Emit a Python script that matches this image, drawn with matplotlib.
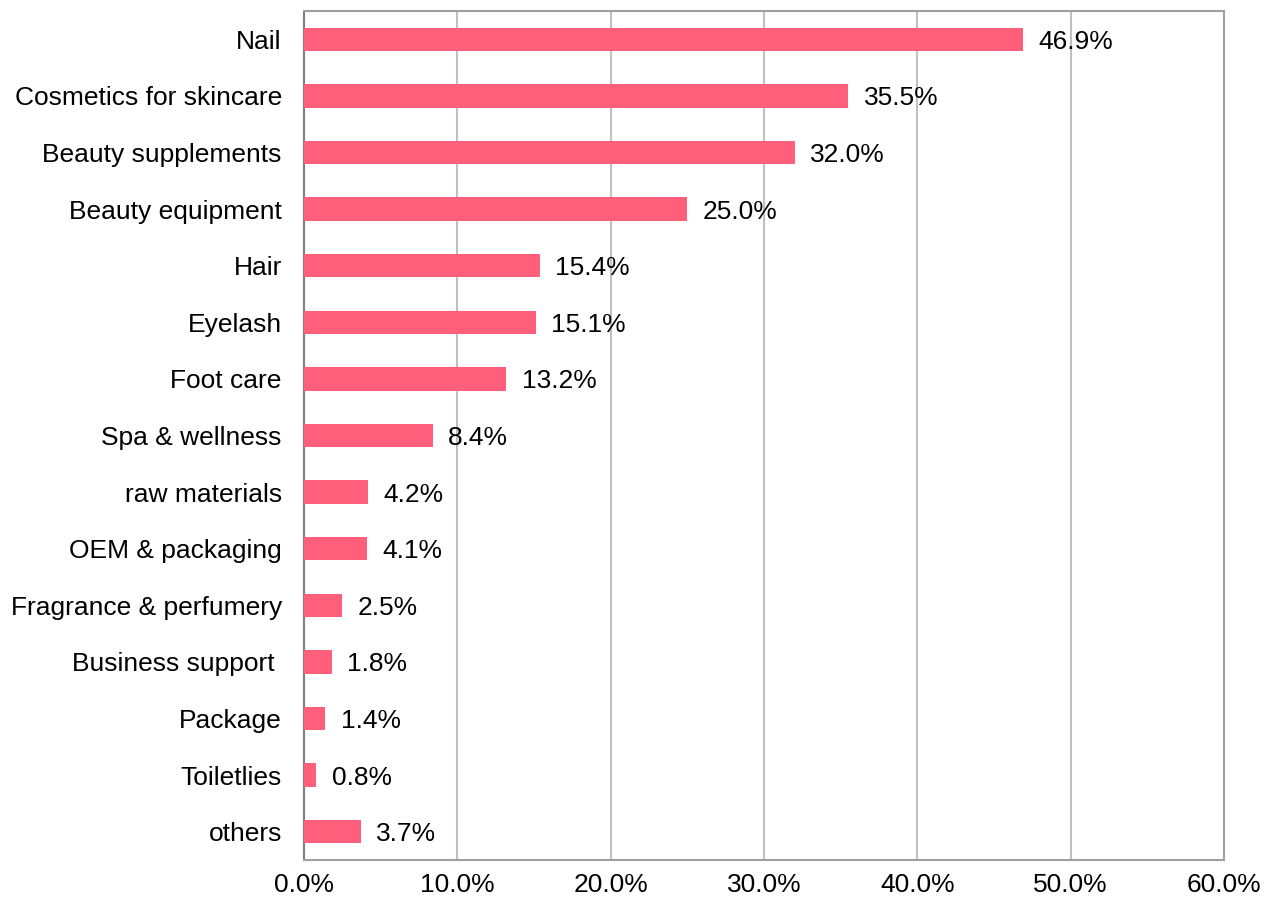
import matplotlib
matplotlib.use('Agg')
import matplotlib.pyplot as plt
import numpy as np

plt.rcParams['font.family'] = ['Liberation Sans', 'DejaVu Sans']

categories = ['Nail', 'Cosmetics for skincare', 'Beauty supplements', 'Beauty equipment',
              'Hair', 'Eyelash', 'Foot care', 'Spa & wellness', 'raw materials',
              'OEM & packaging', 'Fragrance & perfumery', 'Business support ',
              'Package', 'Toiletlies', 'others']
values = [46.9, 35.5, 32.0, 25.0, 15.4, 15.1, 13.2, 8.4, 4.2, 4.1, 2.5, 1.8, 1.4, 0.8, 3.7]
ticks = [0, 10, 20, 30, 40, 50, 60]

fig = plt.figure(figsize=(12.74, 9.09), dpi=100)
ax = fig.add_axes([304/1274, 1 - 860/909, 920/1274, 849/909])

y = np.arange(len(categories))
ax.barh(y, values, height=0.41, color='#FF5F7A', zorder=3)
for yi, v in zip(y, values):
    ax.text(v + 1.0, yi, '%.1f%%' % v, va='center_baseline', ha='left', fontsize=19,
            color='black', zorder=4)

ax.set_ylim(len(categories) - 0.5, -0.5)
ax.set_xlim(0, 60)
ax.set_yticks(y)
ax.set_yticklabels(categories, fontsize=19)
ax.set_xticks(ticks)
ax.set_xticklabels(['%.1f%%' % t for t in ticks], fontsize=19)
ax.tick_params(axis='y', length=0, pad=16)
ax.tick_params(axis='x', length=0, pad=9)
ax.grid(axis='x', color='#C0C0C0', linewidth=1.5, zorder=0)
for s in ['top', 'right', 'bottom']:
    ax.spines[s].set_color('#A0A0A0')
    ax.spines[s].set_linewidth(1.5)
ax.spines['left'].set_color('#808080')
ax.spines['left'].set_linewidth(1.5)

fig.savefig('out.png', dpi=100)
